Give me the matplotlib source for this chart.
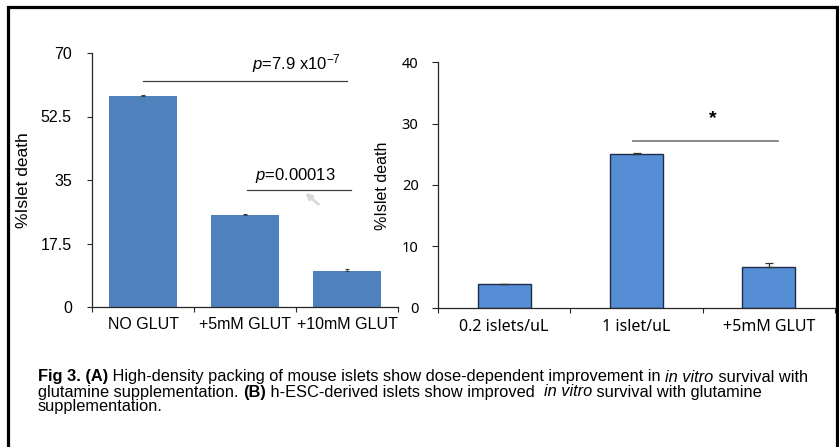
import matplotlib
matplotlib.use("Agg")
import matplotlib.pyplot as plt
from matplotlib.lines import Line2D

# ---------------- data ----------------
cats_a = ["NO GLUT", "+5mM GLUT", "+10mM GLUT"]
vals_a = [58.2, 25.3, 10.0]
err_a = [0.3, 0.25, 0.6]
yticks_a = [0, 17.5, 35, 52.5, 70]
yticklabels_a = ["0", "17.5", "35", "52.5", "70"]

cats_b = ["0.2 islets/uL", "1 islet/uL", "+5mM GLUT"]
vals_b = [3.8, 25.1, 6.6]
err_b = [0.0, 0.15, 0.75]
yticks_b = [0, 10, 20, 30, 40]

caption_lines = [
    [("Fig 3. (A)", "bold", "normal"),
     (" High-density packing of mouse islets show dose-dependent improvement in ", "normal", "normal"),
     ("in vitro", "normal", "italic"),
     (" survival with", "normal", "normal")],
    [("glutamine supplementation. ", "normal", "normal"),
     ("(B)", "bold", "normal"),
     (" h-ESC-derived islets show improved  ", "normal", "normal"),
     ("in vitro", "normal", "italic"),
     (" survival with glutamine", "normal", "normal")],
    [("supplementation.", "normal", "normal")],
]

# ---------------- fonts ----------------
arial = "Liberation Sans"
tahoma = "Noto Sans"

plt.rcParams["mathtext.fontset"] = "custom"
plt.rcParams["mathtext.rm"] = arial
plt.rcParams["mathtext.it"] = arial + ":italic"
plt.rcParams["mathtext.bf"] = arial + ":bold"

W, H = 839, 447
fig = plt.figure(figsize=(W / 100, H / 100), dpi=100)
fig.patch.set_facecolor("white")

def ax_rect(x0, x1, ytop, ybot):
    return [x0 / W, (H - ybot) / H, (x1 - x0) / W, (ybot - ytop) / H]

axis_col = "#262626"

# ---------------- panel A ----------------
ax1 = fig.add_axes(ax_rect(92, 398, 53, 307))
xa = range(len(cats_a))
ax1.bar(xa, vals_a, width=0.66, color="#4F81BD", edgecolor="none", zorder=2)
ax1.errorbar(xa, vals_a, yerr=[[0] * 3, err_a], fmt="none", ecolor="#404040",
             elinewidth=0.8, capsize=1.5, capthick=0.8, zorder=3)
ax1.set_xlim(-0.5, 2.5)
ax1.set_ylim(0, 70)
ax1.set_yticks(yticks_a)
ax1.set_yticklabels(yticklabels_a, fontsize=11.5, family=arial)
ax1.set_xticks(list(xa))
ax1.set_xticklabels(cats_a, fontsize=11.5, family=arial)
ax1.set_xticks([-0.5, 0.5, 1.5, 2.5], minor=True)
ax1.tick_params(axis="x", which="major", length=0, pad=7)
ax1.tick_params(axis="x", which="minor", length=3.5, width=0.8, color=axis_col, direction="out")
ax1.tick_params(axis="y", which="major", length=3.5, width=0.8, color=axis_col, pad=11)
for s in ["top", "right"]:
    ax1.spines[s].set_visible(False)
for s in ["left", "bottom"]:
    ax1.spines[s].set_color(axis_col)
    ax1.spines[s].set_linewidth(0.9)
ax1.set_ylabel("%Islet death", fontsize=12.5, family=arial)
ax1.yaxis.set_label_coords(-0.2, 0.5)

ax1.plot([0.0, 2.0], [62.4, 62.4], color="#404040", lw=0.9, clip_on=False)
ax1.text(1.94, 65.6, r"$p$=7.9 x10$^{\mathrm{-7}}$", fontsize=12, family=arial,
         ha="right", va="baseline")
ax1.plot([1.02, 2.04], [32.3, 32.3], color="#404040", lw=0.9, clip_on=False)
ax1.text(1.495, 35.0, r"$p$=0.00013", fontsize=12, family=arial, ha="center", va="baseline")
ax1.annotate("", xy=(1.57, 32.0), xytext=(1.74, 27.8),
             arrowprops=dict(arrowstyle="-|>", color="#d9d9d9", lw=2.0, mutation_scale=9))

# ---------------- panel B ----------------
ax2 = fig.add_axes(ax_rect(438, 835, 62.3, 307.7))
xb = range(len(cats_b))
ax2.bar(xb, vals_b, width=0.4, color="#558ED5", edgecolor="#1F2D4A", linewidth=1.0, zorder=2)
ax2.errorbar(xb, vals_b, yerr=[[0] * 3, err_b], fmt="none", ecolor="#333333",
             elinewidth=0.9, capsize=3, capthick=0.9, zorder=3)
ax2.set_xlim(-0.5, 2.5)
ax2.set_ylim(0, 40)
ax2.set_yticks(yticks_b)
ax2.set_yticklabels([str(v) for v in yticks_b], fontsize=10.5, family=tahoma)
ax2.set_xticks(list(xb))
ax2.set_xticklabels(cats_b, fontsize=11.5, family=tahoma)
ax2.set_xticks([-0.5, 0.5, 1.5, 2.5], minor=True)
ax2.tick_params(axis="x", which="major", length=0, pad=8)
ax2.tick_params(axis="x", which="minor", length=3.5, width=0.8, color=axis_col, direction="out")
ax2.tick_params(axis="y", which="major", length=4, width=0.8, color=axis_col, pad=10)
for s in ["top", "right"]:
    ax2.spines[s].set_visible(False)
for s in ["left", "bottom"]:
    ax2.spines[s].set_color(axis_col)
    ax2.spines[s].set_linewidth(0.9)
ax2.set_ylabel("%Islet death", fontsize=11.5, family=arial)
ax2.yaxis.set_label_coords(-0.121, 0.496)

ax2.plot([0.97, 2.07], [27.2, 27.2], color="#808080", lw=1.3, clip_on=False)
ax2.text(1.58, 30.9, "*", fontsize=14, fontweight="bold", family=arial, ha="center", va="center")

# ---------------- border ----------------
bx0, bx1, by0 = 7.5, 836.5, 6.5
fig.add_artist(Line2D([bx0 / W, bx0 / W, bx1 / W, bx1 / W],
                      [0, (H - by0) / H, (H - by0) / H, 0],
                      transform=fig.transFigure, color="black", lw=2.3,
                      solid_joinstyle="miter"))

# ---------------- caption ----------------
fig.canvas.draw()
renderer = fig.canvas.get_renderer()
cap_x0, cap_x1 = 38, 810

def draw_line(segs, yy, size):
    x = cap_x0 / W
    made = []
    for txt, wt, st in segs:
        t = fig.text(x, (H - yy) / H, txt, fontsize=size, family=arial,
                     fontweight=wt, fontstyle=st, ha="left", va="center")
        bb = t.get_window_extent(renderer=renderer)
        x = bb.x1 / W
        made.append(t)
    return made, x * W

# fit the first caption line to the width it has in the reference
probe, xend = draw_line(caption_lines[0], 377, 10.0)
for t in probe:
    t.remove()
cap_size = 10.0 * (cap_x1 - cap_x0) / (xend - cap_x0)

line_y = [377, 392, 407]
for segs, yy in zip(caption_lines, line_y):
    draw_line(segs, yy, cap_size)

fig.savefig("out.png", dpi=100, facecolor="white")
